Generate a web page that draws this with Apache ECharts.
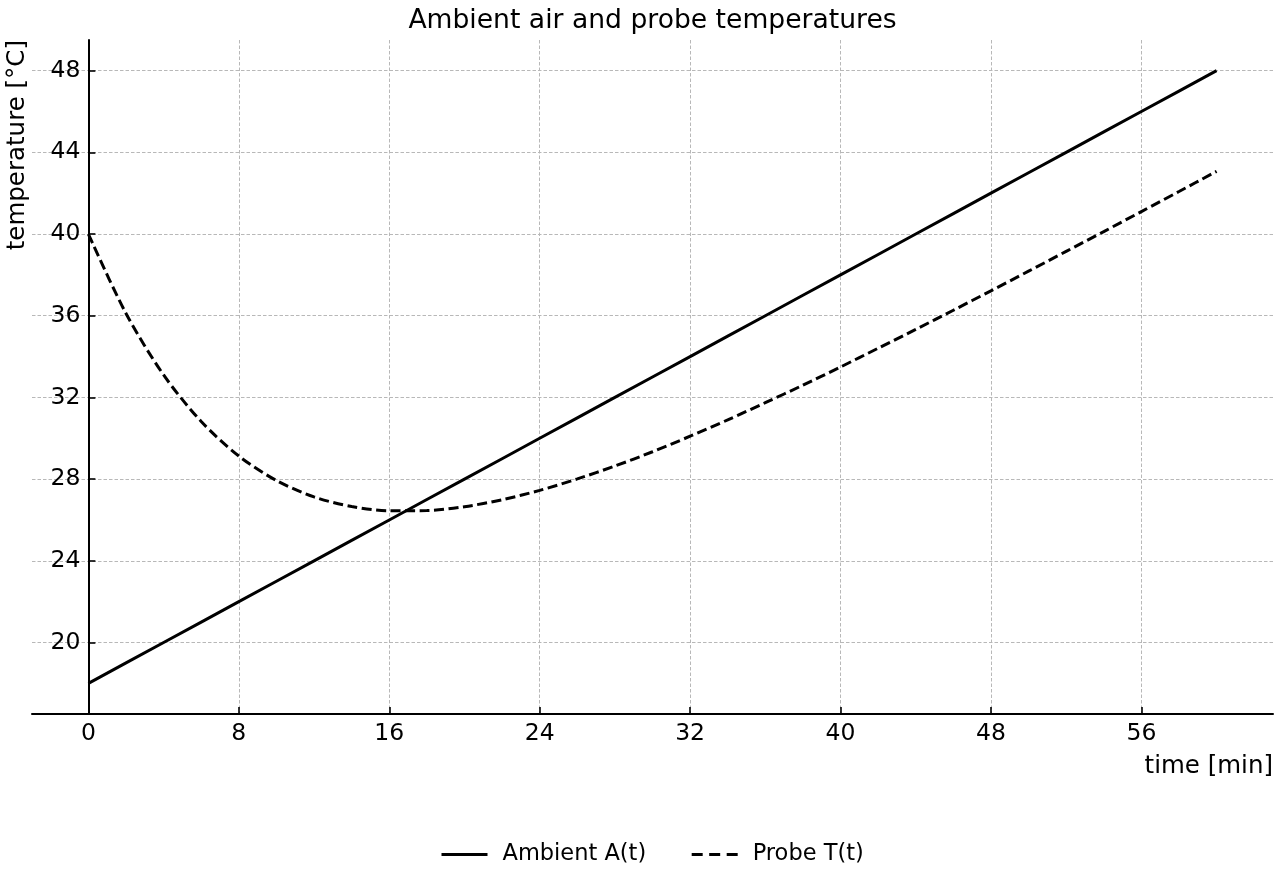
<!DOCTYPE html>
<html>
<head>
<meta charset="utf-8">
<style>html,body{margin:0;padding:0;background:#fff}#c{width:1280px;height:880px}</style>
<script src="https://cdn.jsdelivr.net/npm/echarts@6/dist/echarts.min.js"></script>
</head>
<body>
<div id="c"></div>
<script>
var timeMin = [0,2,4,6,8,10,12,14,16,18,20,22,24,26,28,30,32,34,36,38,40,42,44,46,48,50,52,54,56,58,60];
var ambient = [18,19,20,21,22,23,24,25,26,27,28,29,30,31,32,33,34,35,36,37,38,39,40,41,42,43,44,45,46,47,48];
var probe = [40.0,36.11,33.10,30.82,29.13,27.93,27.13,26.66,26.45,26.46,26.65,26.99,27.45,28.01,28.64,29.34,30.10,30.90,31.74,32.60,33.49,34.41,35.33,36.27,37.22,38.18,39.15,40.12,41.10,42.08,43.07];
var xTicks = [0,8,16,24,32,40,48,56];
var yTicks = [20,24,28,32,36,40,44,48];

var FONT = 'DejaVu Sans';
function pairs(xs, ys){ return xs.map(function(x,i){ return [x, ys[i]]; }); }

var X_MIN = -3, X_MAX = 63;
var GRID_L = 32, GRID_R = 7;
var plotW = 1280 - GRID_L - GRID_R;
var plotCenter = GRID_L + plotW / 2;
var yAxisShift = (0 - X_MIN) / (X_MAX - X_MIN) * plotW;

var chart = echarts.init(document.getElementById('c'), null, {renderer:'canvas'});
chart.setOption({
  animation: false,
  backgroundColor: '#fff',
  textStyle: {fontFamily: FONT},
  title: {
    text: 'Ambient air and probe temperatures',
    left: plotCenter - 5, textAlign: 'center', top: 3,
    textStyle: {fontFamily: FONT, fontSize: 26.6, fontWeight: 'normal', color: '#000'}
  },
  grid: {left: GRID_L, right: GRID_R, top: 40, bottom: 166, containLabel: false, outerBoundsMode: 'none'},
  xAxis: {
    type: 'value', min: X_MIN, max: X_MAX,
    axisLine: {onZero: false, lineStyle: {color: '#000', width: 2}},
    axisTick: {show: true, inside: true, length: 7, customValues: xTicks, lineStyle: {color: '#000', width: 1.6}},
    axisLabel: {customValues: xTicks, color: '#000', fontSize: 23.5, fontFamily: FONT, margin: 8},
    splitLine: {show: true, lineStyle: {color: '#b8b8b8', type: [3.5,2], width: 1}}
  },
  yAxis: {
    type: 'value', min: 16.5, max: 49.5,
    offset: -yAxisShift,
    axisLine: {show: true, onZero: false, lineStyle: {color: '#000', width: 2}},
    axisTick: {show: true, inside: true, length: 7, customValues: yTicks, lineStyle: {color: '#000', width: 1.6}},
    axisLabel: {customValues: yTicks, color: '#000', fontSize: 23.5, fontFamily: FONT, margin: 8},
    splitLine: {show: true, lineStyle: {color: '#b8b8b8', type: [3.5,2], width: 1}}
  },
  legend: {
    bottom: 9, left: 435,
    itemWidth: 46, itemHeight: 14, itemGap: 44,
    itemStyle: {opacity: 0},
    lineStyle: {width: 3},
    textStyle: {fontFamily: FONT, fontSize: 22.5, color: '#000', padding: [0, 0, 0, 10]},
    data: [
      {name: 'Ambient A(t)'},
      {name: 'Probe T(t)', lineStyle: {width: 3, type: [11, 6.5]}}
    ]
  },
  graphic: [
    {type: 'text', x: 18, y: 40, rotation: Math.PI/2,
     style: {text: 'temperature [°C]', fontFamily: FONT, fontSize: 24.5, fill: '#000', align: 'right', verticalAlign: 'middle'}},
    {type: 'text', x: 1273, y: 767,
     style: {text: 'time [min]', fontFamily: FONT, fontSize: 24.5, fill: '#000', align: 'right', verticalAlign: 'middle'}}
  ],
  series: [
    {name: 'Ambient A(t)', type: 'line', data: pairs(timeMin, ambient), symbol: 'none', showSymbol: false,
     lineStyle: {color: '#000', width: 3}, itemStyle: {color: '#000'}},
    {name: 'Probe T(t)', type: 'line', data: pairs(timeMin, probe), symbol: 'none', showSymbol: false, smooth: 0.3,
     lineStyle: {color: '#000', width: 3, type: [10,4.5]}, itemStyle: {color: '#000'}}
  ]
});
</script>
</body>
</html>
